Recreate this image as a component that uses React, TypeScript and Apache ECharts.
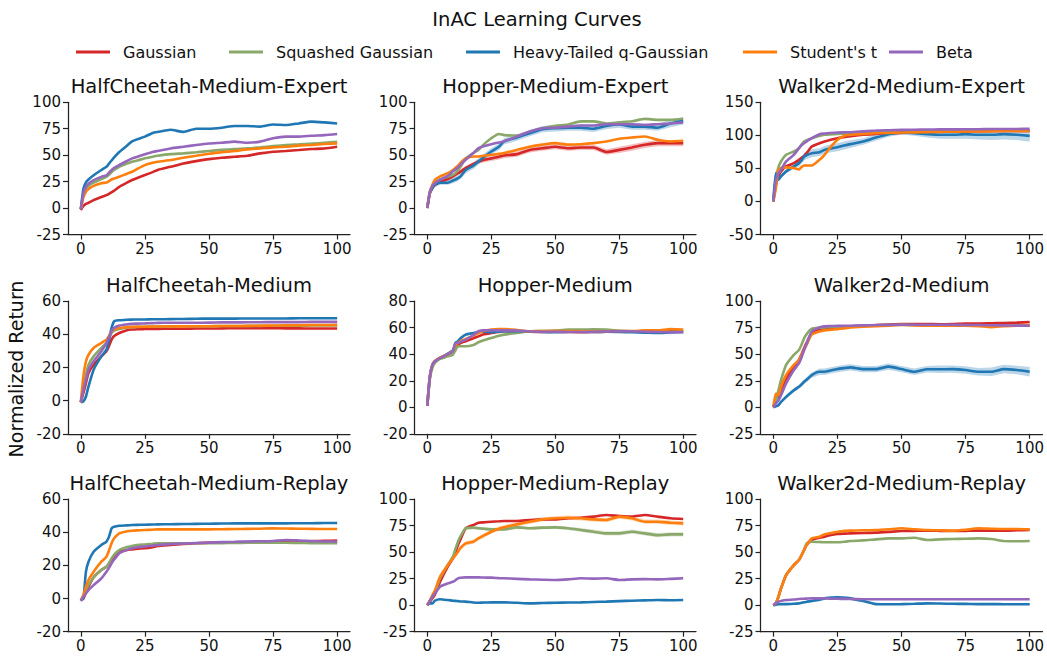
import React, { useEffect, useRef } from "react";
import * as echarts from "echarts";

// ---------------- DATA ----------------
const X = [0, 1, 2, 3, 5, 8, 10, 11, 12, 13, 15, 18, 20, 22, 25, 28, 30, 35, 40, 45, 50, 55, 60, 65, 70, 75, 80, 85, 90, 95, 100];

const SERIES_NAMES = ["Gaussian", "Squashed Gaussian", "Heavy-Tailed q-Gaussian", "Student's t", "Beta"];
const COLORS = ["#d62728", "#8aa86a", "#1f77b4", "#ff7f0e", "#9467bd"];

const PANEL_TITLES = [
  "HalfCheetah-Medium-Expert", "Hopper-Medium-Expert", "Walker2d-Medium-Expert",
  "HalfCheetah-Medium", "Hopper-Medium", "Walker2d-Medium",
  "HalfCheetah-Medium-Replay", "Hopper-Medium-Replay", "Walker2d-Medium-Replay",
];
const Y_MIN = [-25, -25, -50, -20, -20, -25, -20, -25, -25];
const Y_MAX = [100, 100, 150, 60, 80, 100, 60, 100, 100];
const Y_STEP = [25, 25, 50, 20, 20, 25, 20, 25, 25];
const X_TICKS = [0, 25, 50, 75, 100];

// HalfCheetah-Medium-Expert
const hcmeGaussian = [-2, 2, 4, 5, 7.5, 10.5, 12.2, 13.5, 15, 16.5, 20, 24, 26.5, 28.5, 31.2, 34, 36, 39, 42.2, 44.4, 46.3, 47.6, 48.5, 49.5, 51.7, 53.3, 54, 54.9, 55.8, 56.4, 58];
const hcmeSquashed = [-1, 12, 18.5, 21, 24, 27.5, 29.6, 31.5, 34, 36, 39, 42, 43.8, 45, 47, 48.6, 49.5, 51, 51.7, 52.7, 54, 55, 55.8, 56.4, 57.4, 58.6, 59.6, 60.2, 60.9, 61.8, 62.7];
const hcmeHeavy = [-1, 18, 24.2, 27, 31, 36, 39, 42, 45, 48, 53, 59, 63, 65, 67.5, 71, 72, 74, 72, 75, 75, 76, 77.6, 77.6, 77, 79, 78.5, 80, 81.7, 81, 80];
const hcmeStudent = [-1, 10, 15.4, 18, 21, 23.5, 24.2, 25.5, 27, 28, 29.6, 32.5, 34.3, 37, 40.6, 42.8, 43.8, 45.4, 47.6, 49.5, 51.4, 52.7, 54, 55.5, 56.4, 57.4, 58, 59, 59.6, 60.5, 61.2];
const hcmeBeta = [-1, 14, 20, 23, 26.5, 29.5, 31, 33.5, 36, 38, 40.7, 44.5, 47, 48.5, 50.8, 53, 54, 56.4, 58, 59.6, 61, 61.8, 62.8, 61.8, 62.8, 66, 67.5, 67.5, 68.4, 69, 70];

// Hopper-Medium-Expert
const hmeGaussian = [0, 14, 19, 22, 24.5, 27.5, 30, 31.5, 33, 34.5, 37.8, 41.5, 44, 45.5, 47, 48.5, 49.7, 51, 55, 56.6, 58, 56.6, 57.3, 57.3, 53, 55, 57.3, 59.8, 61.4, 61.4, 61.4];
const hmeSquashed = [0, 16, 20, 24, 27, 29.5, 31.5, 33, 36, 39, 47, 52, 55, 60, 66, 70, 69, 68.6, 72, 75.5, 77.7, 79, 82, 82, 80, 81, 82, 84.3, 83.4, 83.4, 84.3];
const hmeHeavy = [0, 14, 19, 22, 24, 24, 26, 27, 28.4, 30, 36, 40, 44, 48, 53.5, 58, 63, 66.7, 70.8, 74.6, 75.5, 76, 76, 75, 77.7, 79, 77, 77, 76, 80, 82.4];
const hmeStudent = [0, 15, 22, 26.8, 30, 33, 36, 38, 40, 43, 47, 48.8, 48.8, 49.5, 50.4, 51.2, 52, 55, 58, 60, 61.4, 60, 60.4, 61.4, 63, 65.5, 66.7, 67.6, 64.5, 63, 63.6];
const hmeBeta = [0, 15, 21, 23.5, 26.8, 30.5, 34.7, 36.5, 38.5, 41, 45.7, 52, 56.6, 58.5, 60.4, 62, 63, 67.6, 72.4, 75.5, 76, 77, 78, 78, 79.3, 79.3, 79.3, 78.6, 79.3, 80, 81];
const hmeHeavyBand = [0, 1, 1.5, 2, 2, 2, 2.5, 2.5, 2.5, 2.5, 3, 3, 3, 3, 3, 3, 3, 3, 3, 3, 3, 3, 3, 3, 3, 3, 3, 3, 3, 3.5, 3.5];
const hmeGaussianBand = [0, 1, 1, 1.5, 1.5, 2, 2, 2, 2, 2, 2, 2, 2, 2.5, 2.5, 2.5, 2.5, 2.5, 2.5, 2.5, 2.5, 2.5, 2.5, 2.5, 2.5, 3, 3, 3, 3, 3, 3];

// Walker2d-Medium-Expert
const wmeGaussian = [0, 25, 38, 45.5, 53, 58, 63, 66, 69, 73, 83, 88, 90.7, 93, 95.7, 97.5, 98.7, 100.8, 102.3, 103, 103.8, 104.5, 105.3, 105.5, 105.8, 106, 106.3, 106.5, 106.6, 106.7, 106.8];
const wmeSquashed = [0, 35.4, 52, 60.5, 70.6, 75.6, 80.6, 86, 90.7, 92.5, 95.7, 99.2, 100.8, 101.5, 102.3, 102.6, 102.8, 104, 104.8, 105.3, 105.8, 106, 106.3, 106.5, 106.8, 107, 107, 107.1, 107.2, 107.3, 107.3];
const wmeHeavy = [0, 43, 33, 38, 45.5, 53, 58, 62, 68, 70, 73, 74.6, 78, 80, 82, 85, 86.7, 90.7, 96.7, 101.8, 104.3, 103.3, 101.8, 100.8, 100.8, 101.8, 100.8, 100.8, 101.8, 100.8, 99.2];
const wmeStudent = [0, 20, 48, 50.5, 51.5, 50.5, 48.5, 52, 54.5, 54.5, 54.5, 63, 70.6, 80.6, 93.2, 99.7, 100.8, 102.3, 103.3, 103.8, 104.3, 104.5, 104.8, 105.2, 105.5, 105.8, 105.8, 106.2, 106.5, 106.7, 106.8];
const wmeBeta = [0, 33, 42, 48, 60.5, 70.6, 80.6, 85, 88, 91, 95.7, 101.8, 102.8, 103.5, 104.3, 104.6, 104.8, 106, 107.3, 107.8, 108.3, 108.5, 108.8, 109, 109, 109.2, 109.3, 109.5, 109.6, 109.7, 109.8];
const wmeHeavyBand = [0, 2, 2, 2, 3, 4, 5, 5, 6, 6, 6, 6, 6, 6, 6, 6, 6, 5, 5, 4, 3, 4, 5, 6, 6, 7, 7, 8, 8, 8, 9];

// HalfCheetah-Medium
const hcmGaussian = [-1, 4.6, 10.6, 16.7, 21.7, 26.7, 29.8, 33, 36.8, 39, 40.8, 42.5, 42.9, 43.1, 43.2, 43.3, 43.3, 43.4, 43.4, 43.5, 43.5, 43.6, 43.7, 43.7, 43.7, 43.7, 43.6, 43.6, 43.5, 43.5, 43.5];
const hcmSquashed = [-1, 8.6, 15.6, 21.7, 26.7, 31.8, 34.8, 37.5, 40.8, 42.3, 43.3, 44, 44.3, 44.5, 44.6, 44.7, 44.7, 44.8, 44.9, 44.9, 44.9, 45, 45, 45.1, 45.1, 45.2, 45.2, 45.2, 45.3, 45.3, 45.3];
const hcmHeavy = [-1, -0.5, 2.5, 8.6, 18.7, 26.7, 30.8, 36.8, 43.9, 47.9, 48.5, 48.8, 48.9, 49, 49, 49.1, 49.1, 49.2, 49.3, 49.4, 49.5, 49.5, 49.5, 49.6, 49.6, 49.6, 49.6, 49.7, 49.7, 49.7, 49.7];
const hcmStudent = [-1, 14.6, 23.7, 27.7, 31.8, 34.8, 36.8, 39, 41.9, 43, 43.9, 44.3, 44.5, 44.6, 44.6, 44.7, 44.7, 44.8, 44.8, 44.9, 44.9, 45, 45, 45.1, 45.2, 45.3, 45.4, 45.5, 45.6, 45.6, 45.7];
const hcmBeta = [-1, 6.6, 12.6, 18.7, 23.7, 29.8, 34.8, 38.5, 41.9, 43.9, 45.3, 46, 46.3, 46.5, 46.6, 46.8, 46.9, 47, 47, 47, 47.1, 47.2, 47.2, 47.3, 47.3, 47.4, 47.4, 47.4, 47.5, 47.5, 47.5];

// Hopper-Medium
const hmGaussian = [1, 23, 32, 34.7, 37.2, 39.7, 42.2, 46, 47.3, 48.5, 49.8, 52, 53.5, 55, 56, 56.8, 57.3, 57, 57, 56.8, 57, 56.8, 56.6, 56.8, 57, 57.3, 57.3, 57, 57.2, 57.3, 57.3];
const hmSquashed = [1, 21, 30, 33.5, 36.5, 38.4, 39.7, 43, 46, 46, 46, 47, 49, 50.5, 52.3, 54, 54.8, 56, 57.3, 57.5, 57.8, 58.6, 58.6, 58.8, 58.6, 57.8, 57.3, 57, 57.3, 57, 57.3];
const hmHeavy = [1, 23, 32, 34.7, 37.2, 40.5, 43, 48.5, 49.8, 52, 54.8, 56, 56.8, 57, 56.6, 57, 57.3, 57.3, 57.3, 56.8, 56.6, 57, 57, 56.8, 57, 56.8, 56.6, 56.3, 56, 56.5, 56.8];
const hmStudent = [1, 23, 32, 35, 37.5, 40, 42.5, 47, 48.5, 50, 51.5, 54, 56, 57.5, 58.6, 59, 59, 58.3, 57.3, 57.5, 57.6, 57.5, 57.3, 57.3, 57.3, 57.5, 57.5, 58, 58, 59, 58.6];
const hmBeta = [1, 23, 32, 34.7, 37.2, 40, 42.2, 48.5, 48.5, 49.5, 51, 54.5, 57.3, 58, 58, 58, 58, 57.8, 57.3, 57, 57, 56.8, 56.8, 57, 57.2, 57.3, 57.3, 57, 56.8, 56.6, 56.6];

// Walker2d-Medium
const wmGaussian = [0, 8, 9.8, 16, 27.2, 38.3, 44.6, 50, 55.7, 61, 70, 73, 74, 74.8, 75.5, 76, 76.3, 77, 77.5, 78, 78.5, 78.5, 78.5, 78.3, 78.5, 79, 79, 79.2, 79.4, 79.8, 80.4];
const wmSquashed = [0, 6.6, 16, 25.6, 39.9, 49.4, 54, 59, 65, 69, 74, 75, 75.3, 75.5, 75.8, 76, 76.3, 77, 77.3, 77.5, 77.8, 77.5, 77.3, 77.2, 77.2, 77, 77, 76.8, 76.9, 76.9, 76.9];
const wmHeavy = [0, 1, 2, 5, 9.8, 16, 19.3, 21.5, 24, 26, 30.4, 33.5, 33.5, 34.5, 36, 37, 37.6, 36, 36, 38.3, 36, 33.5, 35.8, 35.8, 36, 35.1, 33.5, 33.5, 36, 35.1, 33.5];
const wmStudent = [0, 13, 11.4, 19.3, 30.4, 39.9, 44.6, 49, 54, 59, 68.4, 71.5, 72.5, 73, 73.7, 74.5, 75.3, 76, 76.5, 77, 77.5, 77.2, 77, 77, 76.8, 76.9, 76.5, 75.6, 76.5, 77, 77.8];
const wmBeta = [0, 3.5, 6.6, 11.4, 22.5, 35.1, 41.5, 47, 54, 60, 71.5, 75.3, 76.3, 76.5, 76.7, 76.8, 76.9, 77.2, 77.5, 77.7, 77.8, 77.8, 77.8, 77.8, 77.8, 77.5, 77.5, 77.3, 77.2, 77, 76.9];
const wmHeavyBand = [0, 1, 1, 1.5, 2, 2, 2, 2, 2, 2.5, 2.5, 3, 3, 3, 3, 3, 3, 3, 3, 3, 3, 3, 3, 3.5, 3.5, 3.5, 3.5, 4, 4, 4, 4.5];

// HalfCheetah-Medium-Replay
const hcmrGaussian = [-1, 0, 3.5, 7.1, 12.8, 17.2, 19.2, 21, 23.2, 25, 28.2, 29.2, 29.6, 30, 30.3, 31, 31.7, 32.3, 32.9, 33.3, 33.7, 33.8, 33.9, 34, 34.1, 34.3, 34.4, 34.5, 34.6, 34.8, 34.9];
const hcmrSquashed = [-1, 1.1, 5.1, 8.1, 12.8, 17.2, 19.2, 21.5, 24.2, 26.5, 29.2, 31, 31.7, 32.2, 32.6, 33, 33.3, 33.3, 33.3, 33.3, 33.3, 33.4, 33.5, 33.6, 33.6, 33.7, 33.6, 33.5, 33.4, 33.3, 33.3];
const hcmrHeavy = [-1, 0, 16.2, 22.2, 28.2, 32.3, 34.3, 37.3, 42.3, 43.3, 43.9, 44.1, 44.3, 44.4, 44.5, 44.6, 44.7, 44.8, 44.9, 45, 45.1, 45.2, 45.3, 45.3, 45.3, 45.3, 45.3, 45.4, 45.4, 45.5, 45.5];
const hcmrStudent = [-1, 2.1, 7.1, 11.2, 16.2, 22.2, 25.2, 29, 33.3, 36.3, 39.3, 40.5, 40.9, 41.1, 41.3, 41.5, 41.7, 41.7, 41.7, 41.7, 41.7, 41.8, 41.9, 42, 42.1, 42.3, 42.2, 42.1, 42, 41.9, 41.9];
const hcmrBeta = [-1.5, 1.1, 3, 5.1, 8.1, 12.2, 16.2, 18.5, 21.2, 23.5, 27.2, 29.3, 30.3, 30.9, 31.4, 31.9, 32.3, 32.8, 33.2, 33.5, 33.7, 34, 34.2, 34.4, 34.5, 34.7, 35.3, 35, 34.6, 34.4, 34.3];

// Hopper-Medium-Replay
const hmrGaussian = [0, 3, 6.4, 10, 22, 36.2, 44, 50, 56.7, 62, 72.4, 75.5, 77.7, 78, 78.6, 79, 79.3, 79.3, 80.2, 80.8, 80.8, 81.8, 82.4, 83.4, 84.9, 84, 83.4, 84.9, 83.4, 81.8, 81.2];
const hmrSquashed = [0, 4, 8, 12, 25.3, 37.8, 45.7, 53, 59.8, 65, 72.4, 73, 72.4, 72, 71.4, 71.4, 71.4, 73.3, 72.4, 73, 73.3, 72.4, 70.8, 69.2, 67.6, 67.6, 69.2, 67.6, 66, 66.7, 66.7];
const hmrHeavy = [0, 1.7, 1.7, 4.2, 5.5, 4.8, 4.2, 4, 3.8, 3.5, 3.3, 2.5, 2.3, 2.5, 2.6, 2.6, 2.6, 2.2, 1.7, 2, 2.3, 2.5, 2.6, 3, 3.3, 3.8, 4.2, 4.5, 4.8, 4.6, 4.8];
const hmrStudent = [0, 4.5, 9.5, 14, 26.8, 37.8, 44, 47, 50.4, 54, 58.2, 59.8, 62.9, 65.5, 69.2, 72, 73.3, 76.1, 78.6, 80.8, 81.8, 82.4, 81.8, 80.8, 80.2, 83.4, 81.8, 78.6, 78.6, 77.7, 77];
const hmrBeta = [0, 4, 8, 11, 17.4, 20.5, 22, 23.5, 25.3, 25.8, 26.2, 26.2, 26.2, 26, 25.9, 25.5, 25.3, 24.8, 24.3, 24, 23.7, 24.3, 25.3, 25, 25.3, 23.7, 24.3, 24.5, 24.3, 24.8, 25.3];
const hmrStudentBand = [0, 0.5, 1, 1, 1.5, 2, 2, 2, 2, 2, 2, 2, 2, 2, 2, 2, 2, 2, 2, 2, 2, 2, 2, 2, 2, 2, 2, 2, 2, 2, 2];
const hmrSquashedBand = [0, 0.5, 1, 1, 1.5, 1.5, 1.5, 1.5, 1.5, 1.5, 1.5, 1.5, 1.5, 1.5, 1.5, 1.5, 1.5, 1.5, 1.5, 1.5, 1.5, 1.5, 2, 2, 2, 2, 2, 2, 2, 2, 2];

// Walker2d-Medium-Replay
const wmrGaussian = [0, 1.7, 8, 15.8, 28.4, 37.8, 42.5, 47, 52, 56.7, 61.4, 63.5, 64.5, 65.8, 67, 67.4, 67.6, 68, 68.3, 69, 69.8, 70, 70.2, 70, 69.8, 70, 70.2, 70.2, 70.2, 70.5, 70.8];
const wmrSquashed = [0, 1.7, 8, 15.8, 28.4, 37.8, 42.5, 47, 52, 58.2, 59.8, 59.5, 59.2, 59.2, 59.2, 59.8, 60.4, 61, 62, 62.9, 62.9, 63.5, 61.4, 62, 62.3, 62.5, 62.9, 62.3, 60.4, 60.2, 60.4];
const wmrHeavy = [0, 0.5, 0.8, 0.9, 1, 1.3, 1.7, 2.2, 2.7, 3.2, 3.9, 5.2, 6.4, 7, 7.4, 7, 6.4, 3.9, 1, 0.8, 1, 1.3, 1.7, 1.5, 1.3, 1.2, 1, 1, 0.9, 0.8, 0.8];
const wmrStudent = [0, 1.7, 8, 15.8, 28.4, 37.8, 42.5, 47, 52, 56.7, 62.9, 64.5, 66.7, 67.8, 69.2, 70, 70.2, 70.5, 70.8, 71.5, 72.4, 71.5, 70.8, 70.5, 70.2, 71, 72.4, 72, 71.7, 71.7, 71.4];
const wmrBeta = [0, 2, 3.3, 4, 4.8, 5.3, 5.8, 6, 6.1, 6.2, 6.4, 6.4, 6.4, 6.2, 6, 5.9, 5.8, 5.6, 5.5, 5.5, 5.5, 5.5, 5.5, 5.5, 5.5, 5.5, 5.5, 5.5, 5.5, 5.5, 5.5];
const wmrHeavyBand = [0, 0.5, 0.5, 0.5, 0.5, 0.5, 0.5, 1, 1, 1, 1, 1.5, 1.5, 1.5, 1.5, 1.5, 1.5, 1, 0.5, 0.5, 0.5, 0.5, 0.5, 0.5, 0.5, 0.5, 0.5, 0.5, 0.5, 0.5, 0.5];

const PANELS: number[][][] = [
  [hcmeGaussian, hcmeSquashed, hcmeHeavy, hcmeStudent, hcmeBeta],
  [hmeGaussian, hmeSquashed, hmeHeavy, hmeStudent, hmeBeta],
  [wmeGaussian, wmeSquashed, wmeHeavy, wmeStudent, wmeBeta],
  [hcmGaussian, hcmSquashed, hcmHeavy, hcmStudent, hcmBeta],
  [hmGaussian, hmSquashed, hmHeavy, hmStudent, hmBeta],
  [wmGaussian, wmSquashed, wmHeavy, wmStudent, wmBeta],
  [hcmrGaussian, hcmrSquashed, hcmrHeavy, hcmrStudent, hcmrBeta],
  [hmrGaussian, hmrSquashed, hmrHeavy, hmrStudent, hmrBeta],
  [wmrGaussian, wmrSquashed, wmrHeavy, wmrStudent, wmrBeta],
];

// shaded bands: [panel index, series index, half-width array]
const BANDS: [number, number, number[]][] = [
  [1, 0, hmeGaussianBand],
  [1, 2, hmeHeavyBand],
  [2, 2, wmeHeavyBand],
  [5, 2, wmHeavyBand],
  [7, 1, hmrSquashedBand],
  [7, 3, hmrStudentBand],
  [8, 2, wmrHeavyBand],
];

// ---------------- LAYOUT ----------------
const COL_LEFT = [68, 414.5, 760.5];
const COL_WIDTH = [282, 281.5, 282.3];
const ROW_TOP = [102.3, 301.2, 499];
const ROW_HEIGHT = [132.2, 132.6, 132.7];
const FONT = "DejaVu Sans";

export default function App() {
  const ref = useRef<HTMLDivElement>(null);

  useEffect(() => {
    if (!ref.current) return;
    const chart = echarts.init(ref.current, undefined, { renderer: "svg" });

    const grids: any[] = [];
    const xAxes: any[] = [];
    const yAxes: any[] = [];
    const series: any[] = [];
    const graphics: any[] = [];

    for (let p = 0; p < 9; p++) {
      const r = Math.floor(p / 3);
      const c = p % 3;
      grids.push({
        left: COL_LEFT[c],
        top: ROW_TOP[r],
        width: COL_WIDTH[c],
        height: ROW_HEIGHT[r],
        containLabel: false,
      });
      const axisLine = { show: true, onZero: false, lineStyle: { color: "#222", width: 1.25 } };
      xAxes.push({
        type: "value",
        gridIndex: p,
        min: -5,
        max: 105,
        axisLine,
        axisTick: { show: true, length: 5, lineStyle: { color: "#222", width: 1.2 }, customValues: X_TICKS },
        axisLabel: { fontFamily: FONT, fontSize: 15, color: "#111", margin: 7, customValues: X_TICKS },
        splitLine: { show: false },
      });
      yAxes.push({
        type: "value",
        gridIndex: p,
        min: Y_MIN[p],
        max: Y_MAX[p],
        interval: Y_STEP[p],
        axisLine,
        axisTick: { show: true, length: 5, lineStyle: { color: "#222", width: 1.2 } },
        axisLabel: { fontFamily: FONT, fontSize: 15, color: "#111", margin: 7 },
        splitLine: { show: false },
      });

      // shaded bands as polygons via a custom series
      BANDS.filter((b) => b[0] === p).forEach(([, s, half]) => {
        const vals = PANELS[p][s];
        const bandData = X.map((x, i) => [x, vals[i] - half[i], vals[i] + half[i]]);
        series.push({
          type: "custom",
          xAxisIndex: p,
          yAxisIndex: p,
          silent: true,
          z: 1,
          data: bandData,
          encode: { x: 0, y: [1, 2] },
          renderItem: (params: any, api: any) => {
            if (params.dataIndex !== 0) return null;
            const upper = bandData.map((d) => api.coord([d[0], d[2]]));
            const lower = bandData.map((d) => api.coord([d[0], d[1]])).reverse();
            return {
              type: "polygon",
              shape: { points: upper.concat(lower) },
              style: { fill: COLORS[s], opacity: 0.3 },
            };
          },
        });
      });

      PANELS[p].forEach((vals, s) => {
        series.push({
          name: SERIES_NAMES[s],
          type: "line",
          xAxisIndex: p,
          yAxisIndex: p,
          data: X.map((x, i) => [x, vals[i]]),
          symbol: "none",
          smooth: 0.2,
          lineStyle: { color: COLORS[s], width: 2.6 },
          itemStyle: { color: COLORS[s] },
          z: 2,
        });
      });

      graphics.push({
        type: "text",
        x: COL_LEFT[c] + COL_WIDTH[c] / 2,
        y: ROW_TOP[r] - 16,
        style: {
          text: PANEL_TITLES[p],
          font: `19.5px '${FONT}'`,
          fill: "#111",
          textAlign: "center",
          textVerticalAlign: "middle",
        },
      });
    }

    // suptitle
    graphics.push({
      type: "text",
      x: 537,
      y: 19,
      style: { text: "InAC Learning Curves", font: `19.5px '${FONT}'`, fill: "#111", textAlign: "center", textVerticalAlign: "middle" },
    });
    // y label
    graphics.push({
      type: "text",
      x: 16,
      y: 369,
      rotation: Math.PI / 2,
      style: { text: "Normalized Return", font: `19px '${FONT}'`, fill: "#111", textAlign: "center", textVerticalAlign: "middle" },
    });
    // legend
    const LEG_X = [76, 229, 466, 743, 889];
    SERIES_NAMES.forEach((name, s) => {
      graphics.push({
        type: "line",
        shape: { x1: LEG_X[s], y1: 52, x2: LEG_X[s] + 34, y2: 52 },
        style: { stroke: COLORS[s], lineWidth: 3 },
      });
      graphics.push({
        type: "text",
        x: LEG_X[s] + 47,
        y: 52,
        style: { text: name, font: `16px '${FONT}'`, fill: "#111", textAlign: "left", textVerticalAlign: "middle" },
      });
    });

    chart.setOption({
      animation: false,
      backgroundColor: "#fff",
      grid: grids,
      xAxis: xAxes,
      yAxis: yAxes,
      series,
      graphic: graphics,
    });

    return () => chart.dispose();
  }, []);

  return (
    <div
      ref={ref}
      style={{ position: "fixed", left: 0, top: 0, width: 1047, height: 658, background: "#fff" }}
    />
  );
}
